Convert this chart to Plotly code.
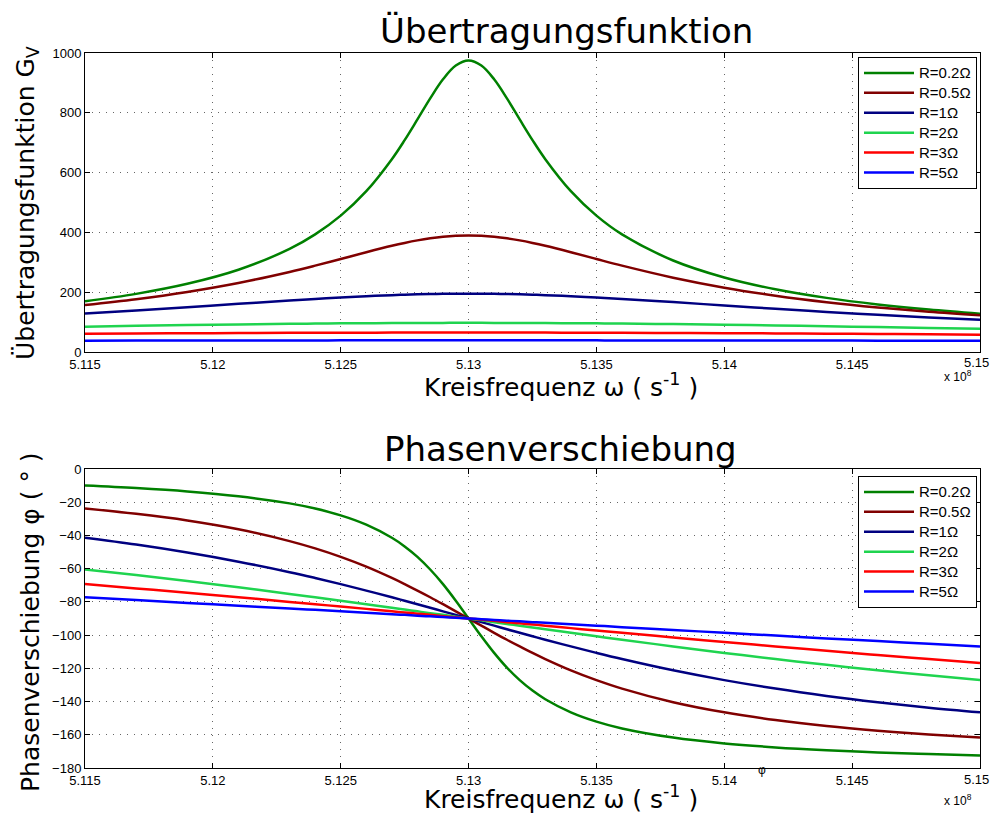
import plotly.graph_objects as go

# frequency axis (units of 1e8 s^-1)
omega = [5.115, 5.117, 5.119, 5.121, 5.123, 5.124, 5.125, 5.126, 5.127, 5.1275,
         5.128, 5.1285, 5.129, 5.1295, 5.130, 5.1305, 5.131, 5.1315, 5.132, 5.1325,
         5.133, 5.134, 5.135, 5.136, 5.138, 5.140, 5.142, 5.144, 5.146, 5.148, 5.150]

labels = ["R=0.2Ω", "R=0.5Ω", "R=1Ω", "R=2Ω", "R=3Ω", "R=5Ω"]
colors = ["#008000", "#800000", "#000080", "#1fd44f", "#ff0000", "#0000ff"]

g_r02 = [169.4, 194.4, 228.0, 275.0, 344.7, 393.3, 456.0, 537.8, 644.9, 708.6,
         777.8, 848.2, 912.0, 958.0, 975.0, 958.0, 912.0, 848.2, 777.8, 708.6,
         644.9, 537.8, 456.0, 393.3, 306.1, 249.3, 209.9, 181.0, 159.1, 141.8, 127.9]
g_r05 = [157.3, 176.8, 201.0, 230.9, 267.8, 288.8, 311.1, 333.7, 355.2, 364.8,
         373.3, 380.3, 385.6, 388.9, 390.0, 388.9, 385.6, 380.3, 373.3, 364.8,
         355.2, 333.7, 311.1, 288.8, 248.5, 215.1, 188.3, 166.6, 149.0, 134.5, 122.5]
g_r1 = [129.0, 139.1, 149.9, 161.2, 172.4, 177.6, 182.4, 186.7, 190.2, 191.6,
        192.8, 193.8, 194.4, 194.9, 195.0, 194.9, 194.4, 193.8, 192.8, 191.6,
        190.2, 186.7, 182.4, 177.6, 166.9, 155.6, 144.4, 133.9, 124.3, 115.5, 107.6]
g_r2 = [84.8, 87.5, 90.0, 92.3, 94.3, 95.1, 95.8, 96.4, 96.9, 97.1,
        97.2, 97.3, 97.4, 97.5, 97.5, 97.5, 97.4, 97.3, 97.2, 97.1,
        96.9, 96.4, 95.8, 95.1, 93.3, 91.2, 88.8, 86.2, 83.4, 80.6, 77.8]
g_r3 = [60.8, 61.8, 62.6, 63.4, 64.0, 64.3, 64.5, 64.7, 64.8, 64.9,
        64.9, 65.0, 65.0, 65.0, 65.0, 65.0, 65.0, 65.0, 64.9, 64.9,
        64.8, 64.7, 64.5, 64.3, 63.7, 63.0, 62.2, 61.3, 60.3, 59.2, 58.0]
g_r5 = [38.0, 38.3, 38.5, 38.6, 38.8, 38.8, 38.9, 38.9, 39.0, 39.0,
        39.0, 39.0, 39.0, 39.0, 39.0, 39.0, 39.0, 39.0, 39.0, 39.0,
        39.0, 38.9, 38.9, 38.8, 38.7, 38.6, 38.4, 38.2, 37.9, 37.6, 37.3]

p_r02 = [-10.0, -11.5, -13.5, -16.4, -20.7, -23.8, -27.9, -33.5, -41.4, -46.6,
         -52.9, -60.5, -69.3, -79.3, -90.0, -100.7, -110.7, -119.6, -127.1, -133.4,
         -138.6, -146.5, -152.1, -156.2, -161.7, -165.2, -167.6, -169.3, -170.6, -171.6, -172.5]
p_r05 = [-23.8, -27.0, -31.0, -36.3, -43.4, -47.8, -52.9, -58.8, -65.6, -69.3,
         -73.2, -77.2, -81.4, -85.7, -90.0, -94.3, -98.6, -102.8, -106.8, -110.7,
         -114.4, -121.2, -127.1, -132.2, -140.4, -146.5, -151.1, -154.7, -157.5, -159.8, -161.7]
p_r1 = [-41.4, -45.5, -50.3, -55.8, -62.1, -65.6, -69.3, -73.2, -77.2, -79.3,
        -81.4, -83.5, -85.7, -87.8, -90.0, -92.2, -94.3, -96.5, -98.6, -100.7,
        -102.8, -106.8, -110.7, -114.4, -121.2, -127.1, -132.2, -136.6, -140.4, -143.7, -146.5]
p_r2 = [-60.5, -63.8, -67.4, -71.2, -75.2, -77.2, -79.3, -81.4, -83.5, -84.6,
        -85.7, -86.8, -87.8, -88.9, -90.0, -91.1, -92.2, -93.3, -94.3, -95.4,
        -96.5, -98.6, -100.7, -102.8, -106.8, -110.7, -114.4, -117.9, -121.2, -124.2, -127.1]
p_r3 = [-69.3, -71.9, -74.5, -77.2, -80.0, -81.4, -82.8, -84.2, -85.7, -86.4,
        -87.1, -87.8, -88.6, -89.3, -90.0, -90.7, -91.4, -92.2, -92.9, -93.6,
        -94.3, -95.8, -97.2, -98.6, -101.4, -104.1, -106.8, -109.4, -112.0, -114.4, -116.8]
p_r5 = [-77.2, -78.9, -80.6, -82.3, -84.0, -84.8, -85.7, -86.5, -87.4, -87.8,
        -88.3, -88.7, -89.1, -89.6, -90.0, -90.4, -90.9, -91.3, -91.7, -92.2,
        -92.6, -93.5, -94.3, -95.2, -96.9, -98.6, -100.3, -102.0, -103.6, -105.2, -106.8]

x_ticks = [5.115, 5.12, 5.125, 5.13, 5.135, 5.14, 5.145, 5.15]
x_tick_text = ["5.115", "5.12", "5.125", "5.13", "5.135", "5.14", "5.145", "5.15"]
g_ticks = [0, 200, 400, 600, 800, 1000]
p_ticks = [0, -20, -40, -60, -80, -100, -120, -140, -160, -180]

gains = [g_r02, g_r05, g_r1, g_r2, g_r3, g_r5]
phases = [p_r02, p_r05, p_r1, p_r2, p_r3, p_r5]


def legend_name(s):
    return '<span style="font-size:15px">' + s + '</span>'


fig = go.Figure()
for lab, col, g in zip(labels, colors, gains):
    fig.add_trace(go.Scatter(x=omega, y=g, mode="lines", name=legend_name(lab),
                             line=dict(color=col, width=2.5, shape="spline"),
                             xaxis="x", yaxis="y", legend="legend"))
for lab, col, p in zip(labels, colors, phases):
    fig.add_trace(go.Scatter(x=omega, y=p, mode="lines", name=legend_name(lab),
                             line=dict(color=col, width=2.5, shape="spline"),
                             xaxis="x2", yaxis="y2", legend="legend2"))

tickfont = dict(family="Liberation Sans, Arial, sans-serif", size=13, color="black")
axis_common = dict(showline=True, linecolor="black", linewidth=1, mirror="ticks",
                   ticks="inside", ticklen=5, tickcolor="black", showgrid=True,
                   gridcolor="#666666", griddash="1px,6px", gridwidth=1, zeroline=False,
                   tickfont=tickfont)

# page body has an 8px offset; plot area spans screen x 85..980, y 53..352 and 469..768
W, H = 982, 805
L, R, T, B = 77, 10, 45, 45
PW, PH = W - L - R, H - T - B
top_dom = [416 / PH, 1.0]
bot_dom = [0.0, 299 / PH]

legend_font = dict(family="Liberation Sans, Arial, sans-serif", size=13, color="black")
fig.update_layout(
    width=W, height=H,
    margin=dict(l=L, r=R, t=T, b=B),
    paper_bgcolor="white", plot_bgcolor="white",
    showlegend=True,
    xaxis=dict(domain=[0, 1], anchor="y", range=[5.115, 5.15],
               tickvals=x_ticks, ticktext=x_tick_text, **axis_common),
    yaxis=dict(domain=top_dom, anchor="x", range=[0, 1000], tickvals=g_ticks,
               **axis_common),
    xaxis2=dict(domain=[0, 1], anchor="y2", range=[5.115, 5.15],
                tickvals=x_ticks, ticktext=x_tick_text, **axis_common),
    yaxis2=dict(domain=bot_dom, anchor="x2", range=[-180, 0], tickvals=p_ticks,
                **axis_common),
    legend=dict(x=(977 - 85) / PW, y=top_dom[1] - 4 / PH, xanchor="right", yanchor="top",
                bgcolor="white", bordercolor="black", borderwidth=1,
                font=legend_font, itemwidth=50, tracegroupgap=0),
    legend2=dict(x=(977 - 85) / PW, y=bot_dom[1] - 7 / PH, xanchor="right", yanchor="top",
                 bgcolor="white", bordercolor="black", borderwidth=1,
                 font=legend_font, itemwidth=50, tracegroupgap=0),
)

title_font = dict(family="DejaVu Sans, Verdana, sans-serif", size=34, color="black")
label_font = dict(family="DejaVu Sans, Verdana, sans-serif", size=25, color="black")
small_font = dict(family="Liberation Sans, Arial, sans-serif", size=12, color="black")

ann = [
    dict(text="Übertragungsfunktion", x=566, y=31, font=title_font),
    dict(text="Phasenverschiebung", x=560, y=449, font=title_font),
    dict(text="Kreisfrequenz ω ( s<sup>-1</sup> )", x=561, y=385, font=label_font),
    dict(text="Kreisfrequenz ω ( s<sup>-1</sup> )", x=561, y=798, font=label_font),
    dict(text="Übertragungsfunktion G<sub>V</sub>", x=27, y=203, font=label_font, textangle=-90),
    dict(text="Phasenverschiebung φ ( ° )", x=30, y=622, font=label_font, textangle=-90),
    dict(text="x 10<sup>8</sup>", x=958, y=376, font=small_font),
    dict(text="x 10<sup>8</sup>", x=958, y=800, font=small_font),
    dict(text="φ", x=762, y=770, font=dict(family="Liberation Sans, Arial, sans-serif", size=12, color="black")),
    # last x tick label sits at the page edge, so it is placed explicitly
    dict(text=x_tick_text[-1], x=976, y=362, font=tickfont),
    dict(text=x_tick_text[-1], x=976, y=779, font=tickfont),
]
for a in ann:
    # screen pixel positions -> paper coordinates (plot area 85..980 x 53..768)
    px, py = a.pop("x"), a.pop("y")
    fig.add_annotation(x=(px - 85) / PW, y=(768 - py) / PH,
                       xref="paper", yref="paper", showarrow=False,
                       xanchor="center", yanchor="middle", **a)

fig.write_html("out.html", config={"displayModeBar": False})
